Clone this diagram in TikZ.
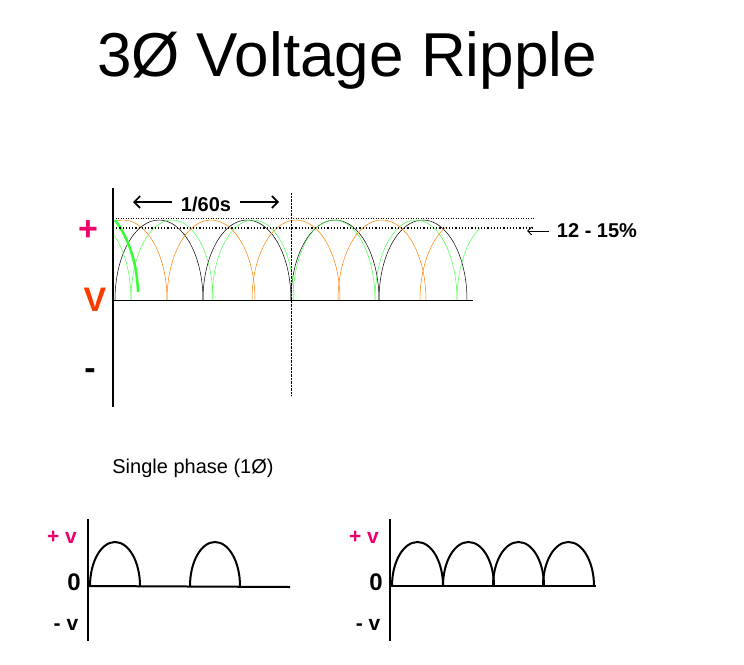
\documentclass[tikz,border=0pt]{standalone}
\usepackage{fontspec}
\usetikzlibrary{arrows.meta}
\setmainfont{Liberation Sans}
\begin{document}
\begin{tikzpicture}[x=1pt,y=-1pt,
  lbl/.style={inner sep=0pt,anchor=center},
  blk/.style={draw=black,line width=0.5pt},
  grn/.style={draw=green!70!white,line width=0.5pt},
  org/.style={draw=orange,line width=0.5pt},
  bar/.style={line width=1.6pt}]
\useasboundingbox (0,0) rectangle (744,664);
\definecolor{mag}{RGB}{240,0,110}
\definecolor{vred}{RGB}{250,60,0}
\node[lbl,font=\fontsize{62}{66}\selectfont] (title) at (347,60) {3Ø Voltage Ripple};
% ripple arches
\begin{scope}
\clip (114,210) rectangle (480,301);
\foreach \s in {115,203,291,379} \draw[blk] (\s,300) arc[start angle=180,end angle=0,x radius=44,y radius=-80];
\foreach \s in {49,131,212,293,375,457} \draw[grn] (\s,300) arc[start angle=180,end angle=0,x radius=41,y radius=-80];
\foreach \s in {79,167,252,338} \draw[org] (\s,300) arc[start angle=180,end angle=0,x radius=44,y radius=-80];
\draw[org] (420,300) arc[start angle=180,end angle=115,x radius=44,y radius=-80];
\end{scope}
\draw[green!80!white,line width=2.5pt] (115,220) .. controls (130,240) and (137,265) .. (138,292);
\coordinate (t1) at (113,218); \coordinate (t2) at (535,218);
\coordinate (d1) at (113,228); \coordinate (d2) at (535,228);
\draw[dotted,line width=0.5pt] (t1) -- (t2);
\draw[dotted,line width=1.2pt] (d1) -- (d2);
\coordinate (v1) at (291,193); \coordinate (v2) at (291,396);
\draw[densely dotted,line width=0.4pt] (v1) -- (v2);
\coordinate (b1) at (113,300); \coordinate (b2) at (473,300);
\draw[line width=0.6pt] (b1) -- (b2);
\coordinate (a1) at (113,188); \coordinate (a2) at (113,407);
\draw[bar] (a1) -- (a2);
\node[lbl,font=\bfseries\fontsize{34}{36}\selectfont,text=mag] (plus) at (88,231) {+};
\node[lbl,font=\bfseries\fontsize{34}{36}\selectfont,text=vred] (V) at (95,300) {V};
\node[lbl,font=\bfseries\fontsize{34}{36}\selectfont] (minus) at (90,374) {-};
\node[lbl,font=\bfseries\fontsize{20}{22}\selectfont] (per) at (206,204) {1/60s};
\coordinate (p1) at (172,202); \coordinate (p2) at (133,202);
\coordinate (p3) at (240,202); \coordinate (p4) at (279,202);
\draw[-{Straight Barb[length=6pt,width=12pt]},line width=1.6pt] (p1) -- (p2);
\draw[-{Straight Barb[length=6pt,width=12pt]},line width=1.6pt] (p3) -- (p4);
\node[lbl,font=\bfseries\fontsize{20}{22}\selectfont] (pct) at (597,231) {12 - 15\%};
\coordinate (q1) at (549,231); \coordinate (q2) at (527,231);
\draw[-{Straight Barb[length=4pt,width=8pt]},line width=0.9pt] (q1) -- (q2);
% bottom
\node[lbl,font=\fontsize{20}{22}\selectfont] (sp) at (193,468) {Single phase (1Ø)};
\begin{scope}[line width=2pt]
\coordinate (la1) at (88,519); \coordinate (la2) at (88,641);
\coordinate (lb1) at (88,586); \coordinate (lb2) at (290,587);
\draw (la1) -- (la2); \draw (lb1) -- (lb2);
\draw (90,586) arc[start angle=180,end angle=0,x radius=25,y radius=-44];
\draw (190,586) arc[start angle=180,end angle=0,x radius=25,y radius=-44];
\coordinate (ra1) at (390,519); \coordinate (ra2) at (390,641);
\coordinate (rb1) at (390,586); \coordinate (rb2) at (596,586);
\draw (ra1) -- (ra2); \draw (rb1) -- (rb2);
\foreach \s in {392,443,493,543} \draw (\s,586) arc[start angle=180,end angle=0,x radius=25.5,y radius=-44];
\end{scope}
\foreach \n/\x in {L/0,R/302}{
\node[lbl,font=\bfseries\fontsize{21}{23}\selectfont,text=mag] (pv\n) at (62+\x,537) {+ v};
\node[lbl,font=\bfseries\fontsize{24}{26}\selectfont] (z\n) at (74+\x,582) {0};
\node[lbl,font=\bfseries\fontsize{21}{23}\selectfont] (mv\n) at (66+\x,625) {- v};
}
\end{tikzpicture}
\end{document}
